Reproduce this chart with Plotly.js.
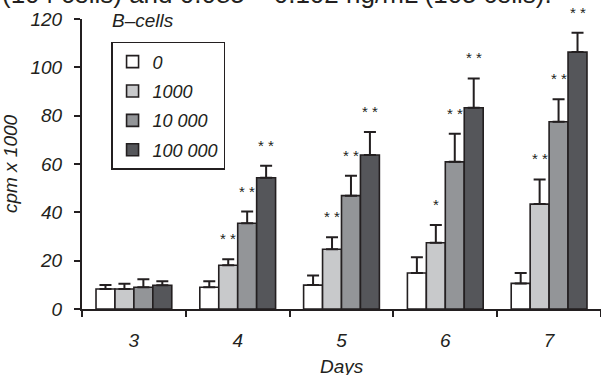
<!DOCTYPE html>
<html>
<head>
<meta charset="utf-8">
<script src="https://cdn.plot.ly/plotly-3.0.1.min.js"></script>
<style>html,body{margin:0;padding:0;background:#fff;}#chart{width:601px;height:375px;}</style>
</head>
<body>
<div id="chart"></div>
<script>
// ---- data ----
const days = ["3", "4", "5", "6", "7"];
const seriesNames = ["0", "1000", "10 000", "100 000"];
const cells0      = [8.3, 9.0, 9.9, 14.9, 10.6];
const cells1000   = [8.3, 18.1, 24.7, 27.4, 43.4];
const cells10000  = [9.0, 35.5, 46.9, 60.9, 77.5];
const cells100000 = [9.8, 54.3, 63.7, 83.3, 106.3];
const err0      = [1.6, 2.5, 4.0, 6.5, 4.3];
const err1000   = [2.2, 2.5, 5.0, 7.4, 10.2];
const err10000  = [3.3, 4.8, 8.2, 11.6, 9.3];
const err100000 = [1.7, 5.0, 9.5, 12.1, 8.0];
const sig0      = ["", "", "", "", ""];
const sig1000   = ["", "* *", "* *", "*", "* *"];
const sig10000  = ["", "* *", "* *", "* *", "* *"];
const sig100000 = ["", "* *", "* *", "* *", "* *"];

const values = [cells0, cells1000, cells10000, cells100000];
const errors = [err0, err1000, err10000, err100000];
const sigs = [sig0, sig1000, sig10000, sig100000];
const colors = ["#ffffff", "#c8c9cb", "#939598", "#55565a"];

const FONT = "Liberation Sans, Arial, sans-serif";
const INK = "#231f20";
const bargap = 0.27;

const traces = values.map((v, k) => ({
  type: "bar",
  x: days,
  y: v,
  name: seriesNames[k],
  legendgroup: "g" + k,
  marker: {color: colors[k], line: {color: INK, width: 1.6}},
  error_y: {
    type: "data", symmetric: false,
    array: errors[k], arrayminus: v.map(() => 0),
    color: INK, thickness: 2, width: 6
  },
  hoverinfo: "x+y+name"
}));

const annotations = [];
const barW = (1 - bargap) / values.length;
sigs.forEach((s, k) => {
  s.forEach((t, i) => {
    if (!t) return;
    annotations.push({
      x: i + (k - (values.length - 1) / 2) * barW,
      xref: "x",
      y: values[k][i] + errors[k][i],
      yref: "y",
      text: t,
      showarrow: false,
      yanchor: "bottom",
      yshift: 10,
      font: {family: FONT, size: 15, color: INK}
    });
  });
});
annotations.push({
  text: "B–cells", xref: "paper", yref: "paper",
  x: 0.054, y: 1, yshift: -1, xanchor: "left", yanchor: "middle",
  showarrow: false,
  font: {family: FONT, size: 19, style: "italic", color: INK}
});
// x-axis title, its descender cut by the bottom edge as in the reference
annotations.push({
  text: "Days", xref: "paper", yref: "paper",
  x: 0.5, y: 0, yshift: -57, xanchor: "center", yanchor: "middle",
  showarrow: false,
  font: {family: FONT, size: 19, style: "italic", color: INK}
});
// clipped caption line at the very top of the picture
annotations.push({
  text: "(104 cells) and 0.085 – 0.102 ng/mL (105 cells).",
  xref: "paper", yref: "paper", x: 0, xshift: -82, y: 1, yshift: 25,
  xanchor: "left", yanchor: "middle", showarrow: false,
  font: {family: FONT, size: 26, color: INK}
});

const layout = {
  width: 601, height: 375,
  margin: {l: 82, r: 0, t: 19, b: 66},
  paper_bgcolor: "#fff", plot_bgcolor: "#fff",
  barmode: "group", bargap: bargap, bargroupgap: 0,
  showlegend: true,
  legend: {
    x: 0.056, y: 0.921, xanchor: "left", yanchor: "top",
    bordercolor: INK, borderwidth: 1.5, bgcolor: "#fff",
    tracegroupgap: 3,
    font: {family: FONT, size: 18, style: "italic", color: INK}
  },
  xaxis: {
    type: "category",
    showline: true, linecolor: INK, linewidth: 2,
    ticks: "outside", ticklen: 6, tickwidth: 2, tickcolor: INK,
    tickson: "boundaries",
    showgrid: false, zeroline: false,
    tickfont: {family: FONT, size: 19, style: "italic", color: INK},
    ticklabelstandoff: 13
  },
  yaxis: {
    range: [0, 120], dtick: 20,
    showline: true, linecolor: INK, linewidth: 2,
    ticks: "outside", ticklen: 6, tickwidth: 2, tickcolor: INK,
    showgrid: false, zeroline: false,
    tickfont: {family: FONT, size: 19, style: "italic", color: INK},
    ticklabelstandoff: 8,
    title: {text: "cpm x 1000", standoff: 12, font: {family: FONT, size: 19, style: "italic", color: INK}}
  },
  annotations: annotations
};

Plotly.newPlot("chart", traces, layout, {displayModeBar: false, staticPlot: true});
</script>
</body>
</html>
